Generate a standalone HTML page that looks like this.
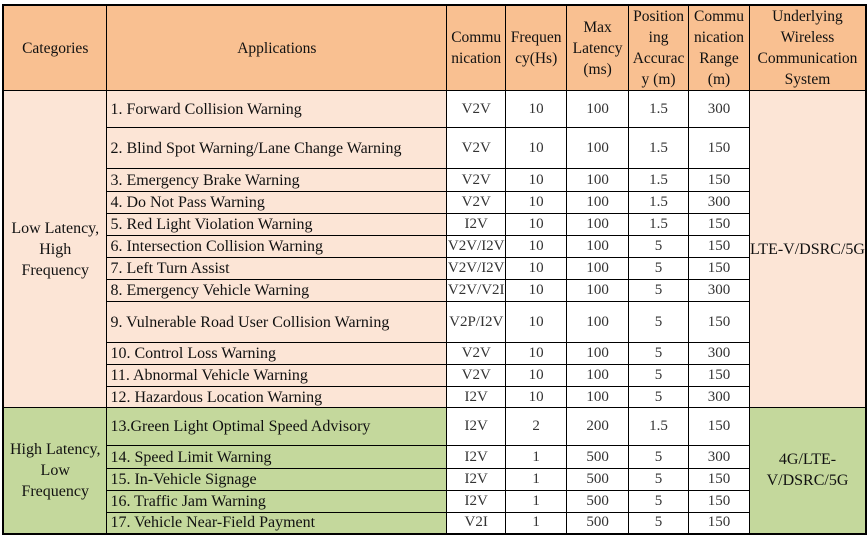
<!DOCTYPE html>
<html><head><meta charset="utf-8">
<style>
html,body{margin:0;padding:0;background:#fff;width:867px;height:537px;overflow:hidden}
table{position:absolute;left:2px;top:4px;border-collapse:collapse;table-layout:fixed;font-family:"Liberation Serif",serif;font-size:15px;color:#111;border:2px solid #000}
td{font-family:"Liberation Serif",serif;font-size:15px;border:1px solid #000;padding:0;text-align:center;vertical-align:middle;line-height:17px;overflow:hidden;white-space:nowrap}
tr.h td{background:#f9c091;font-size:15.5px;line-height:21px}
td.a{text-align:left;padding-left:3px;font-size:16px}
.p{background:#fce5d6}
.g{background:#c4d89c}
td.w{background:#fff;color:#333}
td.c{font-size:16px;line-height:21px}
</style></head><body>
<table>
<colgroup><col style="width:104px"><col style="width:340px"><col style="width:59px"><col style="width:61px"><col style="width:62px"><col style="width:60px"><col style="width:61px"><col style="width:112px"></colgroup>
<tr class="h" style="height:84px"><td>Categories</td><td>Applications</td><td>Commu<br>nication</td><td>Frequen<br>cy(Hs)</td><td>Max<br>Latency<br>(ms)</td><td>Position<br>ing<br>Accurac<br>y (m)</td><td>Commu<br>nication<br>Range<br>(m)</td><td>Underlying<br>Wireless<br>Communication<br>System</td></tr>
<tr style="height:37px"><td class="p c" rowspan="12">Low Latency,<br>High<br>Frequency</td><td class="a p">1. Forward Collision Warning</td><td class="w">V2V</td><td class="w">10</td><td class="w">100</td><td class="w">1.5</td><td class="w">300</td><td class="p c" rowspan="12">LTE-V/DSRC/5G</td></tr>
<tr style="height:41px"><td class="a p">2. Blind Spot Warning/Lane Change Warning</td><td class="w">V2V</td><td class="w">10</td><td class="w">100</td><td class="w">1.5</td><td class="w">150</td></tr>
<tr style="height:23px"><td class="a p">3. Emergency Brake Warning</td><td class="w">V2V</td><td class="w">10</td><td class="w">100</td><td class="w">1.5</td><td class="w">150</td></tr>
<tr style="height:22px"><td class="a p">4. Do Not Pass Warning</td><td class="w">V2V</td><td class="w">10</td><td class="w">100</td><td class="w">1.5</td><td class="w">300</td></tr>
<tr style="height:22px"><td class="a p">5. Red Light Violation Warning</td><td class="w">I2V</td><td class="w">10</td><td class="w">100</td><td class="w">1.5</td><td class="w">150</td></tr>
<tr style="height:22px"><td class="a p">6. Intersection Collision Warning</td><td class="w">V2V/I2V</td><td class="w">10</td><td class="w">100</td><td class="w">5</td><td class="w">150</td></tr>
<tr style="height:22px"><td class="a p">7. Left Turn Assist</td><td class="w">V2V/I2V</td><td class="w">10</td><td class="w">100</td><td class="w">5</td><td class="w">150</td></tr>
<tr style="height:22px"><td class="a p">8. Emergency Vehicle Warning</td><td class="w">V2V/V2I</td><td class="w">10</td><td class="w">100</td><td class="w">5</td><td class="w">300</td></tr>
<tr style="height:41px"><td class="a p">9. Vulnerable Road User Collision Warning</td><td class="w">V2P/I2V</td><td class="w">10</td><td class="w">100</td><td class="w">5</td><td class="w">150</td></tr>
<tr style="height:22px"><td class="a p">10. Control Loss Warning</td><td class="w">V2V</td><td class="w">10</td><td class="w">100</td><td class="w">5</td><td class="w">300</td></tr>
<tr style="height:22px"><td class="a p">11. Abnormal Vehicle Warning</td><td class="w">V2V</td><td class="w">10</td><td class="w">100</td><td class="w">5</td><td class="w">150</td></tr>
<tr style="height:21px"><td class="a p">12. Hazardous Location Warning</td><td class="w">I2V</td><td class="w">10</td><td class="w">100</td><td class="w">5</td><td class="w">300</td></tr>
<tr style="height:38px"><td class="g c" rowspan="5">High Latency,<br>Low<br>Frequency</td><td class="a g">13.Green Light Optimal Speed Advisory</td><td class="w">I2V</td><td class="w">2</td><td class="w">200</td><td class="w">1.5</td><td class="w">150</td><td class="g c" rowspan="5">4G/LTE-<br>V/DSRC/5G</td></tr>
<tr style="height:23px"><td class="a g">14. Speed Limit Warning</td><td class="w">I2V</td><td class="w">1</td><td class="w">500</td><td class="w">5</td><td class="w">300</td></tr>
<tr style="height:22px"><td class="a g">15. In-Vehicle Signage</td><td class="w">I2V</td><td class="w">1</td><td class="w">500</td><td class="w">5</td><td class="w">150</td></tr>
<tr style="height:22px"><td class="a g">16. Traffic Jam Warning</td><td class="w">I2V</td><td class="w">1</td><td class="w">500</td><td class="w">5</td><td class="w">150</td></tr>
<tr style="height:21px"><td class="a g">17. Vehicle Near-Field Payment</td><td class="w">V2I</td><td class="w">1</td><td class="w">500</td><td class="w">5</td><td class="w">150</td></tr>
</table>
</body></html>
